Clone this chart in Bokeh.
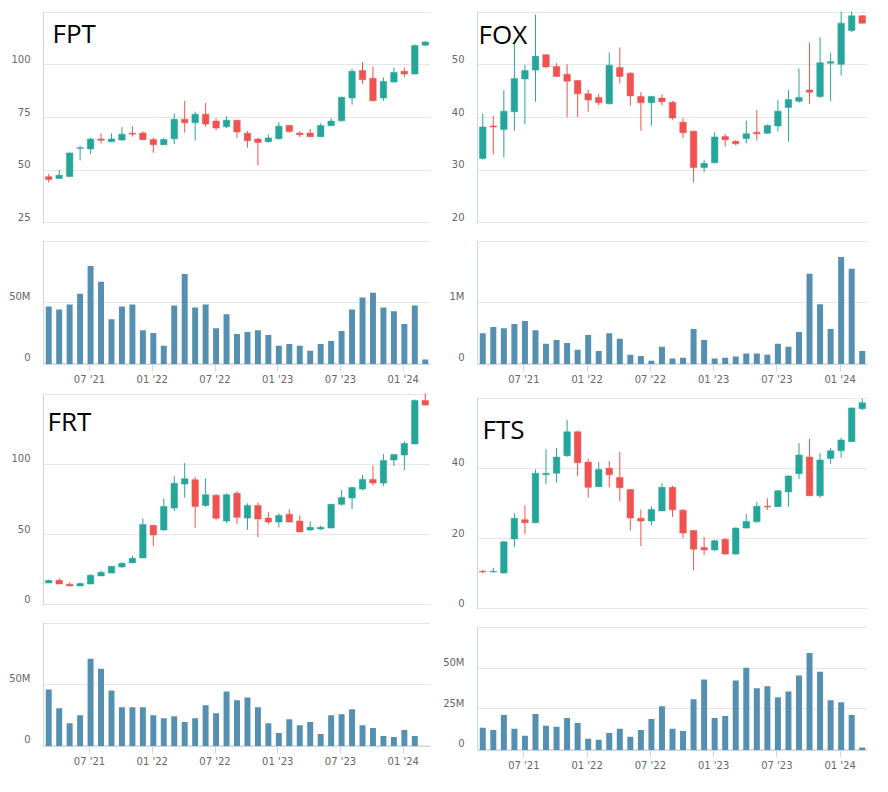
from bokeh.plotting import figure
from bokeh.layouts import row, column
from bokeh.models import FixedTicker, Label, ColumnDataSource, Range1d, CustomJSTickFormatter
from bokeh.embed import file_html
from bokeh.resources import INLINE

# ---------------- data ----------------
months = ["2021-03", "2021-04", "2021-05", "2021-06", "2021-07", "2021-08", "2021-09", "2021-10",
          "2021-11", "2021-12", "2022-01", "2022-02", "2022-03", "2022-04", "2022-05", "2022-06",
          "2022-07", "2022-08", "2022-09", "2022-10", "2022-11", "2022-12", "2023-01", "2023-02",
          "2023-03", "2023-04", "2023-05", "2023-06", "2023-07", "2023-08", "2023-09", "2023-10",
          "2023-11", "2023-12", "2024-01", "2024-02", "2024-03"]
tick_months = ["2021-07", "2022-01", "2022-07", "2023-01", "2023-07", "2024-01"]

fpt_open = [46.9, 46.1, 47.0, 60.3, 60.1, 64.8, 63.5, 64.3, 67.5, 67.6, 64.6, 62.1, 64.9, 74.2, 72.5, 76.6, 73.3, 70.6, 73.7,
            67.5, 64.8, 63.5, 64.9, 71.2, 67.6, 67.6, 65.9, 71.1, 73.4, 84.3, 97.3, 93.6, 84.3, 91.8, 96.9, 95.6, 109.3]
fpt_high = [48.3, 50.2, 58.4, 61.6, 65.4, 67.5, 67.5, 70.4, 70.9, 68.4, 65.4, 65.3, 77.0, 82.9, 77.8, 81.8, 74.5, 75.6, 73.8,
            68.6, 65.3, 67.0, 72.8, 71.3, 68.4, 69.5, 72.2, 74.7, 84.9, 98.1, 101.3, 99.2, 94.0, 98.7, 98.7, 109.7, 111.3]
fpt_low = [44.2, 45.9, 46.8, 54.6, 57.7, 62.7, 63.3, 64.0, 65.9, 64.3, 58.3, 61.9, 62.4, 67.8, 64.0, 70.6, 69.0, 70.0, 65.3,
           60.7, 52.2, 63.1, 64.7, 67.8, 65.7, 65.8, 65.7, 71.0, 73.3, 81.1, 91.0, 82.8, 82.9, 91.7, 94.2, 95.5, 109.1]
fpt_close = [45.6, 47.6, 58.2, 60.7, 64.8, 64.2, 64.8, 67.1, 67.1, 64.5, 62.1, 64.6, 74.2, 72.5, 76.6, 71.9, 70.0, 73.7, 68.1,
             64.0, 63.1, 65.3, 70.9, 68.4, 66.8, 65.9, 71.2, 73.3, 84.6, 96.9, 92.9, 82.9, 92.1, 96.4, 95.6, 109.1, 110.8]
fpt_volume_m = [46.8, 44.4, 48.4, 57.2, 79.7, 66.8, 36.4, 46.8, 48.4, 27.5, 25.1, 14.7, 47.6, 73.3, 46.0, 48.4, 29.1, 40.4, 24.3,
                25.9, 27.5, 23.5, 14.7, 16.3, 14.7, 10.7, 16.3, 18.7, 26.7, 44.4, 54.0, 58.0, 46.0, 42.8, 32.4, 47.6, 3.5]

fox_open = [32.2, 38.4, 37.7, 41.1, 47.3, 49.0, 51.9, 49.7, 48.2, 47.0, 44.5, 43.8, 42.6, 49.5, 48.4, 44.0, 42.8, 43.7, 42.9,
            39.1, 37.4, 30.5, 31.4, 36.4, 35.5, 36.0, 37.2, 37.0, 38.4, 41.9, 43.1, 45.2, 44.0, 50.3, 50.1, 56.5, 59.3]
fox_high = [40.8, 40.3, 45.2, 54.0, 50.0, 59.5, 52.0, 50.3, 50.1, 47.1, 45.3, 44.5, 52.3, 53.3, 48.6, 44.8, 44.1, 44.4, 43.1,
            39.9, 37.5, 32.0, 37.2, 36.9, 35.7, 39.4, 41.4, 38.7, 43.3, 45.2, 49.3, 54.2, 55.2, 52.3, 61.0, 60.5, 59.4]
fox_low = [32.0, 33.0, 32.4, 37.5, 38.7, 43.0, 49.4, 47.7, 40.1, 40.1, 41.1, 42.3, 42.5, 46.5, 42.2, 37.5, 38.4, 42.3, 39.6,
           36.1, 27.7, 29.6, 31.3, 34.5, 34.7, 35.1, 35.6, 36.9, 37.3, 35.4, 42.8, 42.6, 43.7, 43.1, 48.0, 56.2, 57.8]
fox_close = [38.2, 38.2, 41.2, 47.4, 48.9, 51.6, 49.6, 47.8, 46.9, 44.5, 43.3, 42.8, 49.9, 47.8, 44.1, 42.8, 44.0, 43.0, 39.9,
             37.1, 30.5, 31.3, 36.3, 35.8, 35.0, 36.9, 36.9, 38.5, 41.2, 43.4, 43.8, 44.8, 50.4, 50.6, 57.9, 59.3, 57.9]
fox_volume_m = [0.50, 0.60, 0.58, 0.65, 0.70, 0.55, 0.33, 0.39, 0.34, 0.23, 0.47, 0.21, 0.50, 0.41, 0.15, 0.13, 0.05, 0.28, 0.09,
                0.10, 0.57, 0.39, 0.09, 0.10, 0.12, 0.17, 0.17, 0.15, 0.33, 0.28, 0.52, 1.47, 0.97, 0.57, 1.74, 1.55, 0.21]

frt_open = [15.6, 17.5, 14.7, 13.5, 14.9, 20.6, 22.7, 27.0, 29.9, 33.4, 56.6, 53.3, 69.0, 86.0, 89.1, 70.8, 78.0, 59.7, 79.4,
            61.8, 70.8, 61.8, 59.0, 64.5, 59.7, 53.3, 54.0, 54.7, 71.6, 76.1, 82.5, 89.3, 86.7, 103.1, 106.6, 114.5, 145.5]
frt_high = [18.0, 19.0, 16.1, 15.9, 21.8, 24.4, 27.6, 30.3, 35.1, 61.6, 56.8, 75.8, 91.5, 100.9, 91.2, 90.0, 78.7, 79.4, 81.0,
            72.3, 73.0, 65.9, 65.2, 68.0, 63.7, 59.5, 56.4, 71.7, 81.8, 84.1, 92.4, 99.3, 107.3, 107.3, 116.4, 146.2, 151.0]
frt_low = [15.5, 14.8, 13.4, 13.4, 14.8, 20.5, 22.6, 26.5, 29.8, 33.3, 41.7, 52.6, 66.8, 76.3, 54.7, 69.7, 60.2, 58.3, 57.6,
           53.3, 48.3, 57.3, 55.2, 58.9, 51.8, 52.6, 53.3, 54.6, 70.6, 68.2, 81.5, 85.1, 84.6, 98.8, 95.7, 114.4, 142.0]
frt_close = [17.3, 14.9, 13.5, 15.2, 21.1, 23.2, 27.5, 29.6, 33.2, 57.3, 49.8, 70.1, 86.5, 89.8, 70.1, 78.4, 61.6, 78.4, 62.3,
             70.8, 61.1, 59.0, 63.7, 59.0, 51.9, 55.2, 55.2, 71.6, 76.5, 83.6, 89.3, 86.7, 102.8, 107.1, 114.9, 145.5, 142.2]
frt_volume_m = [46.0, 30.6, 18.5, 25.0, 71.0, 62.9, 45.2, 31.5, 31.5, 31.5, 25.0, 22.6, 24.2, 19.4, 22.6, 33.1, 26.6, 44.4, 37.1,
                39.5, 31.5, 18.5, 10.5, 21.8, 16.9, 19.4, 9.7, 25.0, 25.8, 29.8, 16.9, 14.5, 8.1, 7.3, 12.9, 8.1, 0.0]

fts_open = [10.7, 10.5, 10.2, 19.9, 25.4, 24.5, 38.2, 38.6, 43.6, 50.4, 41.8, 34.8, 40.0, 37.4, 34.0, 25.8, 25.0, 27.9, 34.6,
            28.1, 22.3, 17.5, 16.8, 19.8, 15.6, 23.0, 24.8, 29.2, 29.1, 33.3, 38.5, 43.2, 32.2, 42.8, 45.0, 47.6, 57.0]
fts_high = [11.1, 11.7, 19.4, 27.2, 29.5, 39.7, 45.5, 45.8, 53.8, 50.7, 42.8, 41.8, 42.1, 44.7, 34.1, 28.3, 29.2, 35.8, 35.1,
            28.4, 22.4, 20.4, 19.7, 20.1, 23.2, 27.0, 30.4, 31.5, 33.8, 38.1, 47.2, 48.4, 44.4, 45.8, 48.7, 57.3, 59.8]
fts_low = [10.2, 10.4, 10.1, 17.6, 21.2, 24.4, 35.5, 35.9, 43.3, 37.8, 31.6, 34.7, 34.6, 30.6, 22.3, 17.9, 23.7, 27.8, 26.2,
           20.2, 11.0, 15.3, 16.5, 15.4, 15.5, 22.9, 24.5, 28.2, 29.0, 29.0, 37.0, 32.1, 31.6, 41.3, 43.0, 47.5, 56.5]
fts_close = [10.5, 10.7, 19.1, 25.8, 24.5, 38.6, 38.6, 43.2, 50.4, 41.6, 34.6, 39.7, 38.2, 34.5, 25.9, 25.0, 28.3, 34.6, 28.2,
             21.6, 17.0, 16.8, 19.4, 15.6, 23.0, 24.9, 29.2, 29.0, 33.6, 37.8, 43.8, 32.2, 42.4, 45.0, 48.1, 57.2, 58.7]
fts_volume_m = [13.5, 12.2, 21.3, 12.9, 8.6, 21.9, 14.7, 14.1, 19.5, 16.5, 6.8, 6.2, 10.4, 12.9, 8.0, 12.2, 18.9, 26.7, 12.9,
                11.6, 30.9, 43.0, 19.5, 20.7, 42.4, 50.2, 37.6, 38.8, 32.1, 35.7, 45.4, 59.2, 47.8, 30.3, 29.1, 21.3, 1.4]

fpt_price_ticks = [25, 50, 75, 100, 125]
fox_price_ticks = [20, 30, 40, 50, 60]
frt_price_ticks = [0, 50, 100, 150]
fts_price_ticks = [0, 20, 40, 60]
fpt_vol_ticks = [0, 50, 100]
fox_vol_ticks = [0, 1, 2]
frt_vol_ticks = [0, 50, 100]
fts_vol_ticks = [0, 25, 50, 75]

# ---------------- style ----------------
UP = "#26a69a"
DOWN = "#ef5350"
VOL = "#5590b0"
GRID = "#e6e6e6"
AXIS = "#ccd6eb"
LABEL = "#666666"
AX_FONT = "DejaVu Sans"
TITLE_FONT = "Open Sans"
PRICE_FRAME_H = 212
VOL_FRAME_H = 124
PAGE = 8  # page margin emulated inside the layout
X_LO, X_HI = -0.5, len(months) - 0.5

xs = list(range(len(months)))
month_labels = [m[5:7] + " '" + m[2:4] for m in months]
tick_idx = [months.index(m) for m in tick_months]


def padded_range(ticks, frame_h):
    pad = (ticks[-1] - ticks[0]) * 0.6 / frame_h
    return Range1d(ticks[0] - pad, ticks[-1] + pad)


def style_yaxis(p, ticks, frame_h, suffix=""):
    lo, hi = ticks[0], ticks[-1]
    shift = (hi - lo) * 6.0 / frame_h   # labels sit slightly above their grid line
    p.ygrid.ticker = FixedTicker(ticks=ticks)
    p.ygrid.grid_line_color = GRID
    p.yaxis.ticker = FixedTicker(ticks=[t + shift for t in ticks[:-1]])
    p.yaxis.formatter = CustomJSTickFormatter(
        args=dict(d=shift, s=suffix),
        code="const v = Math.round((tick - d) * 100) / 100; return v === 0 ? '0' : String(v) + s;")
    p.yaxis.axis_line_color = AXIS
    p.yaxis.axis_line_width = 1
    p.yaxis.major_tick_line_color = None
    p.yaxis.minor_tick_line_color = None
    p.yaxis.major_label_standoff = 7
    p.yaxis.major_label_text_font = AX_FONT
    p.yaxis.major_label_text_font_size = "10px"
    p.yaxis.major_label_text_color = LABEL


def price_fig(name, o, h, l, c, ticks, width, bl, br, bt, tx, ty):
    p = figure(width=width, height=bt + PRICE_FRAME_H + 8, output_backend="svg", toolbar_location=None,
               x_range=Range1d(X_LO, X_HI), y_range=padded_range(ticks, PRICE_FRAME_H),
               x_axis_location=None, min_border_left=bl, min_border_right=br,
               min_border_top=bt, min_border_bottom=8, outline_line_color=None)
    colors = [UP if cc >= oo else DOWN for oo, cc in zip(o, c)]
    src = ColumnDataSource(dict(x=xs, high=h, low=l,
                                top=[max(a, b) for a, b in zip(o, c)],
                                bottom=[min(a, b) for a, b in zip(o, c)],
                                color=colors))
    p.segment(x0="x", y0="low", x1="x", y1="high", line_color="color", line_width=1, source=src)
    p.vbar(x="x", width=0.62, top="top", bottom="bottom", fill_color="color", line_color="color",
           line_width=0.5, source=src)
    p.xgrid.grid_line_color = None
    style_yaxis(p, ticks, PRICE_FRAME_H)
    p.add_layout(Label(x=tx, y=PRICE_FRAME_H - ty, x_units="screen", y_units="screen", text=name,
                       text_font=TITLE_FONT, text_font_size="26px", text_color="#000000",
                       text_baseline="alphabetic"))
    return p


def volume_fig(vol, ticks, suffix, width, bl, br, bb):
    p = figure(width=width, height=9 + VOL_FRAME_H + bb, output_backend="svg", toolbar_location=None,
               x_range=Range1d(X_LO, X_HI), y_range=padded_range(ticks, VOL_FRAME_H),
               min_border_left=bl, min_border_right=br, min_border_top=9, min_border_bottom=bb,
               outline_line_color=None)
    p.vbar(x=xs, width=0.57, top=vol, bottom=0, fill_color=VOL, line_color=None)
    p.xgrid.grid_line_color = None
    style_yaxis(p, ticks, VOL_FRAME_H, suffix)
    p.xaxis.ticker = FixedTicker(ticks=[i - 0.1 for i in tick_idx])
    p.xaxis.formatter = CustomJSTickFormatter(args=dict(labels=month_labels),
                                              code="return labels[Math.round(tick)];")
    p.xaxis.axis_line_color = AXIS
    p.xaxis.major_tick_line_color = AXIS
    p.xaxis.major_tick_out = 7
    p.xaxis.major_tick_in = 0
    p.xaxis.minor_tick_line_color = None
    p.xaxis.major_label_standoff = 2
    p.xaxis.major_label_text_font = AX_FONT
    p.xaxis.major_label_text_font_size = "10px"
    p.xaxis.major_label_text_color = LABEL
    return p


fpt_p = price_fig("FPT", fpt_open, fpt_high, fpt_low, fpt_close, fpt_price_ticks, 432 + PAGE, 35 + PAGE, 9, 3 + PAGE, 9, 21)
fpt_v = volume_fig(fpt_volume_m, fpt_vol_ticks, "M", 432 + PAGE, 35 + PAGE, 9, 26)
frt_p = price_fig("FRT", frt_open, frt_high, frt_low, frt_close, frt_price_ticks, 432 + PAGE, 34 + PAGE, 10, 3, 4, 27)
frt_v = volume_fig(frt_volume_m, frt_vol_ticks, "M", 432 + PAGE, 34 + PAGE, 10, 34)

fox_p = price_fig("FOX", fox_open, fox_high, fox_low, fox_close, fox_price_ticks, 440, 30, 8, 3 + PAGE, 1, 22)
fox_v = volume_fig(fox_volume_m, fox_vol_ticks, "M", 440, 30, 8, 30)
fts_p = price_fig("FTS", fts_open, fts_high, fts_low, fts_close, fts_price_ticks, 440, 32, 13, 3, 5, 31)
fts_v = volume_fig(fts_volume_m, fts_vol_ticks, "M", 440, 32, 13, 30)

layout = row(column(fpt_p, fpt_v, frt_p, frt_v), column(fox_p, fox_v, fts_p, fts_v))

open("out.html", "w").write(file_html(layout, INLINE))
